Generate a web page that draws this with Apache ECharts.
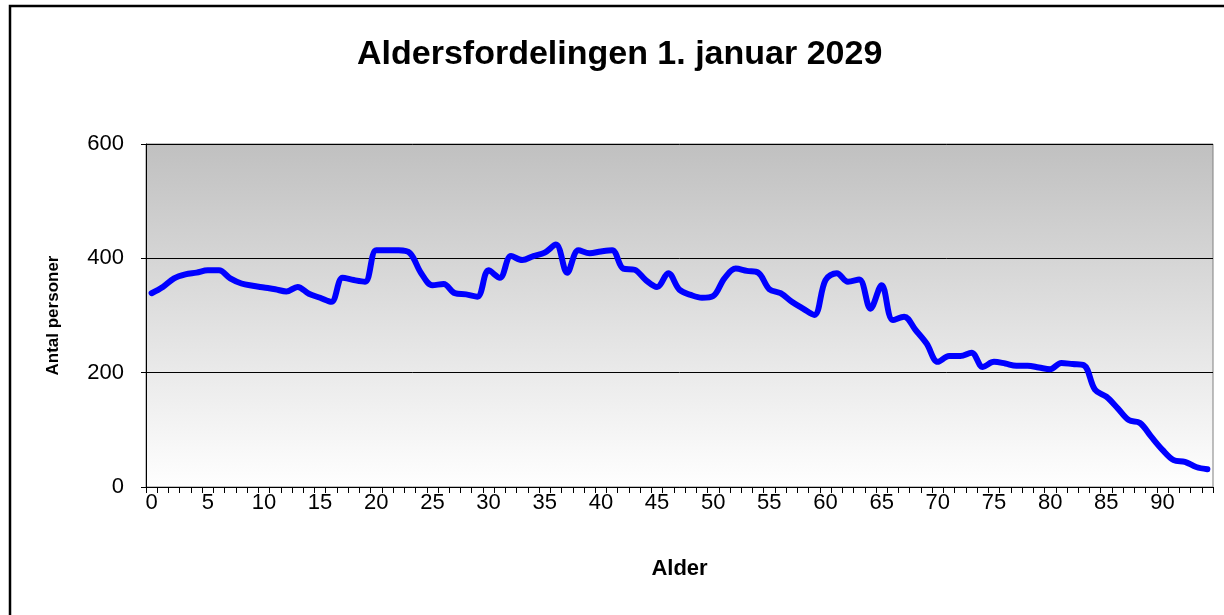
<!DOCTYPE html>
<html>
<head>
<meta charset="utf-8">
<script src="https://cdn.jsdelivr.net/npm/echarts@6/dist/echarts.min.js"></script>
<style>
  html, body { margin: 0; padding: 0; background: #fff; }
  #main { width: 1224px; height: 615px; }
</style>
</head>
<body>
<div id="main"></div>
<script>
// alder 0..94
const ages = ['0','1','2','3','4','5','6','7','8','9','10','11','12','13','14','15','16','17','18','19',
  '20','21','22','23','24','25','26','27','28','29','30','31','32','33','34','35','36','37','38','39',
  '40','41','42','43','44','45','46','47','48','49','50','51','52','53','54','55','56','57','58','59',
  '60','61','62','63','64','65','66','67','68','69','70','71','72','73','74','75','76','77','78','79',
  '80','81','82','83','84','85','86','87','88','89','90','91','92','93','94'];

// antal personer pr. alder
const persons = [339, 350, 365, 372, 375, 379, 379, 365, 356, 352,
  349, 346, 342, 350, 338, 331, 324, 366, 362, 359,
  414, 414, 414, 409, 374, 353, 355, 339, 337, 333,
  379, 366, 404, 397, 404, 410, 424, 375, 414, 409,
  412, 414, 382, 380, 362, 350, 374, 345, 336, 331,
  334, 365, 382, 378, 375, 346, 339, 324, 312, 301,
  362, 374, 359, 363, 312, 353, 292, 298, 275, 251,
  219, 229, 229, 235, 210, 219, 216, 212, 212, 209,
  206, 217, 215, 213, 170, 158, 138, 117, 112, 88,
  65, 47, 44, 35, 31];

const yTicks = [0, 200, 400, 600];

const chart = echarts.init(document.getElementById('main'));
const font = 'Liberation Sans, Arial, sans-serif';

const option = {
  backgroundColor: '#fff',
  animation: false,
  title: {
    text: 'Aldersfordelingen 1. januar 2029',
    left: 352,
    top: 33,
    textStyle: { fontFamily: font, fontSize: 34, fontWeight: 'bold', color: '#000' }
  },
  graphic: [{
    type: 'rect',
    shape: { x: 10, y: 6, width: 1230, height: 640 },
    style: { fill: 'none', stroke: '#000', lineWidth: 2.5 },
    silent: true
  }],
  grid: {
    left: 146, right: 11, top: 144, bottom: 128,
    show: true,
    borderColor: '#808080',
    borderWidth: 1,
    backgroundColor: new echarts.graphic.LinearGradient(0, 0, 0, 1, [
      { offset: 0, color: '#c0c0c0' },
      { offset: 1, color: '#ffffff' }
    ])
  },
  xAxis: {
    type: 'category',
    data: ages,
    boundaryGap: true,
    name: 'Alder',
    nameLocation: 'middle',
    nameGap: 71,
    nameTextStyle: { fontFamily: font, fontSize: 22, fontWeight: 'bold', color: '#000' },
    axisLine: { lineStyle: { color: '#000', width: 1 } },
    axisTick: { show: true, interval: 0, length: 6, lineStyle: { color: '#000' } },
    axisLabel: { interval: 4, fontFamily: font, fontSize: 22, color: '#000', margin: 5 },
    splitLine: { show: false }
  },
  yAxis: {
    type: 'value',
    min: yTicks[0],
    max: yTicks[yTicks.length - 1],
    interval: 200,
    name: 'Antal personer',
    nameLocation: 'middle',
    nameGap: 84,
    nameTextStyle: { fontFamily: font, fontSize: 17, fontWeight: 'bold', color: '#000' },
    axisLine: { show: true, lineStyle: { color: '#000', width: 1 } },
    axisTick: { show: true, length: 5, lineStyle: { color: '#000' } },
    axisLabel: { fontFamily: font, fontSize: 22, color: '#000', margin: 22 },
    splitLine: { show: true, lineStyle: { color: '#000', width: 1 } }
  },
  series: [{
    name: 'Antal personer',
    type: 'line',
    data: persons,
    smooth: 0.35,
    showSymbol: false,
    lineStyle: { color: '#0000ff', width: 6, cap: 'round', join: 'round' },
    itemStyle: { color: '#0000ff' }
  }]
};

chart.setOption(option);
</script>
</body>
</html>
